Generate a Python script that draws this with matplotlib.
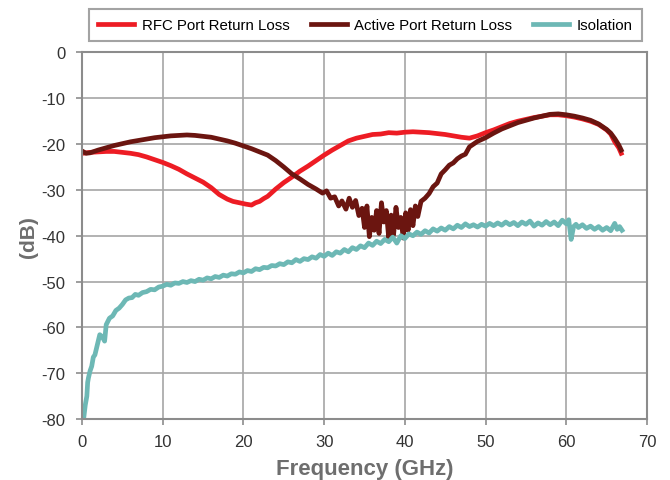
import matplotlib.pyplot as plt

# RFC port return loss (dB) vs frequency (GHz)
rfc_f = [0.1, 1, 2, 3, 4, 5, 6, 7, 8, 9, 10, 11, 12, 13, 14, 15, 16, 17, 18,
         18.7, 19.5, 20.3, 21, 21.5, 22, 22.5, 23, 24, 25, 26, 27, 28, 29, 30,
         31, 32, 33, 34, 35, 36, 37, 38, 39, 40, 41, 42, 43, 44, 45, 46, 47, 48,
         49, 50, 51, 52, 53, 54, 55, 56, 57, 58, 59, 60, 61, 62, 63, 64, 65,
         65.5, 66, 66.5, 66.8]
rfc_db = [-22, -21.8, -21.7, -21.6, -21.6, -21.8, -22, -22.3, -22.8, -23.4, -24,
          -24.7, -25.5, -26.5, -27.4, -28.3, -29.5, -31, -32, -32.5, -32.8, -33.1,
          -33.3, -32.8, -32.5, -31.9, -31.4, -29.8, -28.4, -27.2, -25.9, -24.8,
          -23.6, -22.4, -21.3, -20.3, -19.3, -18.7, -18.3, -17.9, -17.8, -17.5,
          -17.6, -17.4, -17.3, -17.4, -17.5, -17.7, -17.9, -18.2, -18.5, -18.7,
          -18.2, -17.5, -16.9, -16.2, -15.5, -15.0, -14.6, -14.2, -13.9, -13.6,
          -13.6, -13.8, -14.1, -14.5, -15.0, -15.7, -16.9, -17.8, -19.5, -20.8, -22]

# Active port return loss (dB)
act_f = [0.1, 0.5, 1, 2, 3, 4, 5, 6, 7, 8, 9, 10, 11, 12, 13, 14, 15, 16, 17, 18,
         19, 20, 21, 22, 23, 24, 25, 26, 27, 28, 29, 29.8, 30.3, 30.8, 31.3, 31.8,
         32.2, 32.7, 33.1, 33.5, 33.9, 34.3, 34.7, 35.0, 35.3, 35.6, 35.9, 36.2,
         36.5, 36.8, 37.1, 37.4, 37.7, 38.0, 38.3, 38.6, 38.9, 39.2, 39.5, 39.8,
         40.1, 40.4, 40.7, 41.0, 41.3, 41.6, 42, 42.5, 43, 43.5, 44, 44.5, 45,
         45.5, 46, 46.5, 47, 47.5, 48, 48.5, 49, 50, 51, 52, 53, 54, 55, 56, 57,
         58, 59, 60, 61, 62, 63, 64, 65, 65.5, 66, 66.5, 66.8]
act_db = [-21.6, -22, -21.9, -21.3, -20.8, -20.3, -19.9, -19.5, -19.2, -18.9,
          -18.6, -18.4, -18.2, -18.1, -18.0, -18.1, -18.3, -18.5, -18.9, -19.3,
          -19.8, -20.4, -21.0, -21.7, -22.4, -23.6, -25.0, -26.5, -27.6, -28.8,
          -29.8, -30.7, -30.2, -31.8, -31.5, -33.5, -32.4, -34.2, -31.8, -33.8,
          -32.3, -35.6, -34.0, -38.2, -33.5, -40.2, -36.0, -38.8, -34.5, -39.5,
          -32.8, -37.0, -34.5, -40.5, -35.5, -39.8, -33.8, -38.2, -36.0, -40.5,
          -35.0, -38.8, -34.3, -37.8, -33.5, -35.8, -32.5, -31.8, -30.8, -29.3,
          -28.5, -26.5, -25.6, -24.6, -24.1, -23.2, -22.6, -22.2, -20.6, -20.0,
          -19.4, -18.6, -17.6, -16.7, -16.0, -15.3, -14.8, -14.3, -13.9, -13.5,
          -13.4, -13.6, -13.9, -14.3, -14.8, -15.6, -16.8, -17.6, -18.8, -20.2,
          -21.3]

# Isolation (dB)
iso_f = [0.2, 0.4, 0.6, 0.7, 0.8, 1.0, 1.2, 1.4, 1.6, 1.8, 2.0, 2.2, 2.5, 2.8,
         3.0, 3.4, 3.8, 4.2, 4.6, 5.0, 5.4, 5.8, 6.2, 6.6, 7.0, 7.5, 8, 8.5, 9,
         9.5, 10, 10.5, 11, 11.5, 12, 12.5, 13, 13.5, 14, 14.5, 15, 15.5, 16,
         16.5, 17, 17.5, 18, 18.5, 19, 19.5, 20, 20.5, 21, 21.5, 22, 22.5, 23,
         23.5, 24, 24.5, 25, 25.5, 26, 26.5, 27, 27.5, 28, 28.5, 29, 29.5, 30,
         30.5, 31, 31.5, 32, 32.5, 33, 33.5, 34, 34.5, 35, 35.5, 36, 36.5, 37,
         37.5, 38, 38.5, 39, 39.5, 40, 40.5, 41, 41.5, 42, 42.5, 43, 43.5, 44,
         44.5, 45, 45.5, 46, 46.5, 47, 47.5, 48, 48.5, 49, 49.5, 50, 50.5, 51,
         51.5, 52, 52.5, 53, 53.5, 54, 54.5, 55, 55.5, 56, 56.5, 57, 57.5, 58,
         58.5, 59, 59.5, 60, 60.3, 60.6, 60.9, 61.2, 61.5, 62, 62.5, 63, 63.5,
         64, 64.5, 65, 65.5, 66, 66.3, 66.6, 66.9]
iso_db = [-80, -77, -75, -72, -71, -69.5, -68.5, -66.5, -66, -64.5, -63, -61.6,
          -62, -63, -59.4, -58, -57.5, -56.3, -55.8, -55, -54, -53.6, -53.5,
          -52.8, -53, -52.4, -52.2, -51.7, -51.8, -51.2, -51, -50.6, -50.8,
          -50.3, -50.4, -50, -50.2, -49.8, -50, -49.5, -49.7, -49.2, -49.4, -48.9,
          -49.1, -48.6, -48.8, -48.3, -48.4, -47.9, -48.1, -47.6, -47.8, -47.2,
          -47.4, -46.9, -47, -46.5, -46.6, -46.1, -46.3, -45.7, -45.9, -45.2,
          -45.6, -45, -45.2, -44.6, -44.9, -44.1, -44.5, -43.8, -44.3, -43.5,
          -43.8, -43, -43.5, -42.6, -43, -42.2, -42.6, -41.6, -42.1, -41.2, -41.7,
          -40.8, -41.3, -40.3, -41.6, -40, -40.6, -39.6, -40, -39.2, -39.7, -38.9,
          -39.4, -38.5, -39, -38.3, -38.8, -38, -38.5, -37.7, -38.2, -37.4, -38,
          -37.6, -38.1, -37.5, -37.9, -37.3, -37.8, -37.2, -37.7, -37, -37.6,
          -37.1, -37.8, -37, -37.5, -36.8, -37.9, -37.2, -37.7, -36.9, -37.6, -37,
          -37.8, -36.6, -37.4, -36.5, -40.8, -38, -37.5, -38.2, -37.6, -38.4,
          -37.9, -38.6, -38, -38.8, -38.2, -38.9, -37.3, -38.6, -38, -38.8]

series_names = ['RFC Port Return Loss', 'Active Port Return Loss', 'Isolation']
x_ticks = [0, 10, 20, 30, 40, 50, 60, 70]
y_ticks = [0, -10, -20, -30, -40, -50, -60, -70, -80]

plt.rcParams['font.family'] = ['Liberation Sans', 'DejaVu Sans']
plt.rcParams['axes.unicode_minus'] = False

fig = plt.figure(figsize=(6.70, 4.81), dpi=100)
ax = fig.add_axes([0.1224, 0.1268, 0.8433, 0.762])

ax.plot(rfc_f, rfc_db, color='#ED1C24', lw=3.4, label=series_names[0])
ax.plot(act_f, act_db, color='#6B1510', lw=3.4, label=series_names[1])
ax.plot(iso_f, iso_db, color='#6DB8B5', lw=3.4, label=series_names[2])

ax.set_xlim(0, 70)
ax.set_ylim(-80, 0)
ax.set_xticks(x_ticks)
ax.set_yticks(y_ticks)
ax.grid(True, color='#a6a6a6', lw=1.2)
ax.set_axisbelow(True)
for s in ax.spines.values():
    s.set_color('#8c8c8c')
    s.set_linewidth(1.5)
ax.tick_params(colors='#8c8c8c', labelcolor='#333333', labelsize=12,
               length=4, width=1.2, direction='out')
ax.tick_params(axis='y', pad=8)
ax.tick_params(axis='x', pad=7)

ax.set_xlabel('Frequency (GHz)', fontsize=16, fontweight='bold',
              color='#6e6e6e', labelpad=6)
ax.set_ylabel('(dB)', fontsize=15, fontweight='bold', color='#6e6e6e',
              labelpad=2)

leg = fig.legend(loc='center', bbox_to_anchor=(0.5455, 0.945), ncol=3,
                 fontsize=10.8, frameon=True, fancybox=False,
                 edgecolor='#8c8c8c', handlelength=2.4, columnspacing=1.4,
                 handletextpad=0.5, borderpad=0.6)
leg.get_frame().set_linewidth(1.5)

fig.savefig('out.png', dpi=100)
